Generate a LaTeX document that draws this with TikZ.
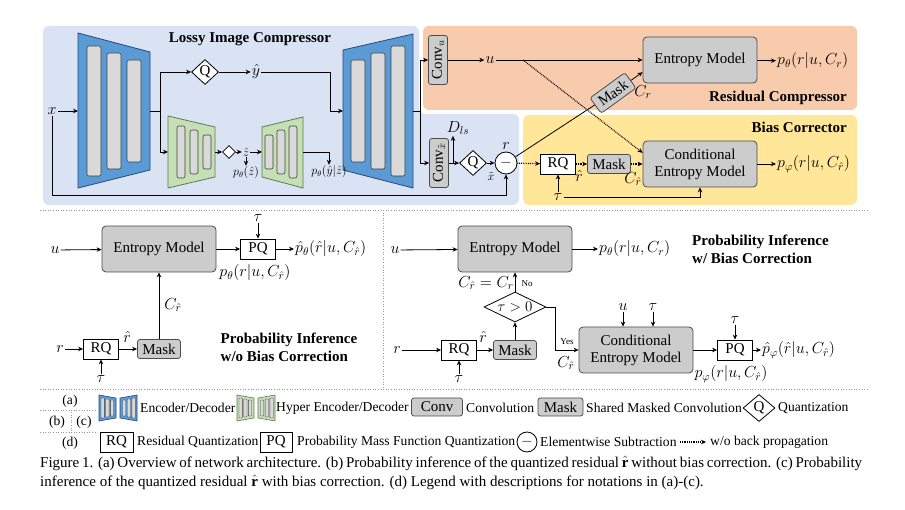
\RequirePackage{fix-cm}
\documentclass[tikz,border=0pt]{standalone}
\usepackage{amsmath}
\usepackage{fontspec}
\setmainfont{Liberation Serif}
\usetikzlibrary{arrows.meta,shapes.geometric,positioning,calc}

\definecolor{lossybg}{RGB}{218,227,243}
\definecolor{residbg}{RGB}{248,203,173}
\definecolor{biasbg}{RGB}{255,230,153}
\definecolor{encblue}{RGB}{91,155,213}
\definecolor{encedge}{RGB}{40,70,120}
\definecolor{hypgreen}{RGB}{197,224,180}
\definecolor{hypedge}{RGB}{95,120,85}

\begin{document}
\begin{tikzpicture}[x=1pt, y=-1pt,
    font=\fontsize{15}{17}\selectfont,
    arr/.style={-{Stealth[length=5pt,width=4.5pt]}, line width=0.8pt},
    darr/.style={arr, densely dotted, line width=1.2pt},
    line/.style={line width=0.8pt},
    box/.style={draw=black!70, rounded corners=4pt, fill=black!20, line width=0.8pt, minimum width=114pt, minimum height=46pt, align=center, inner sep=1pt},
    qbox/.style={draw, fill=white, line width=0.8pt, minimum width=35pt, minimum height=20pt, inner sep=0pt},
    maskbox/.style={draw=black!70, rounded corners=2.5pt, fill=black!20, line width=0.8pt, minimum width=43pt, minimum height=19pt, inner sep=0pt},
    convbox/.style={maskbox, rotate=90, minimum width=49pt},
    quant/.style={draw, diamond, fill=white, line width=0.8pt, minimum width=27pt, minimum height=25pt, inner sep=0pt},
    subnode/.style={draw, circle, fill=white, line width=0.8pt, minimum size=22pt, inner sep=0pt},
    lbl/.style={inner sep=1pt, font=\fontsize{16}{18}\selectfont},
    smlbl/.style={inner sep=1pt, font=\fontsize{12}{14}\selectfont},
    tinylbl/.style={inner sep=0pt, font=\fontsize{9}{10}\selectfont},
    title/.style={font=\fontsize{15}{18}\selectfont\bfseries, align=left, inner sep=0pt},
    lgd/.style={font=\fontsize{13.6}{15}\selectfont, inner sep=0pt, anchor=west},
    sepline/.style={black!40, dotted, line width=0.6pt},
    encoder/.style={fill=encblue, draw=encedge, line width=0.8pt},
    hyper/.style={fill=hypgreen, draw=hypedge, line width=0.8pt},
    bar/.style={fill=black!15, draw=black!75, rounded corners=2pt, line width=0.6pt}
]
\useasboundingbox (0,0) rectangle (905,510);

% (a) panels
\fill[lossybg, rounded corners=6pt] (43,26) -- (419,26) -- (419,114) -- (519,114) -- (519,205) -- (43,205) -- cycle;
\fill[residbg, rounded corners=6pt] (423,26) rectangle (857,110);
\fill[biasbg, rounded corners=6pt] (523,115) rectangle (857,205);
\node[title] (ttl-a) at (250,39) {Lossy Image Compressor};
\node[title, anchor=east] (ttl-r) at (847,98) {Residual Compressor};
\node[title, anchor=east] (ttl-b) at (847,127) {Bias Corrector};

% encoder / decoder
\draw[encoder] (78,33) -- (150,52) -- (150,170) -- (78,188) -- cycle;
\foreach \bx/\bh in {87/65, 107/58, 127/51}
  \draw[bar] (\bx,111-\bh) rectangle ++(14,2*\bh);
\draw[encoder] (343,50) -- (413,34) -- (413,188) -- (343,170) -- cycle;
\foreach \bx/\bh in {351/51, 371/58, 391/65}
  \draw[bar] (\bx,111-\bh) rectangle ++(14,2*\bh);
% hyper encoder / decoder
\draw[hyper] (168,116) -- (215,127) -- (215,177) -- (168,188) -- cycle;
\foreach \bx/\bh in {177/26, 190/22, 203/17}
  \draw[bar] (\bx,152-\bh) rectangle ++(8,2*\bh);
\draw[hyper] (262,127) -- (303,117) -- (303,188) -- (262,177) -- cycle;
\foreach \bx/\bh in {265/17, 277/22, 289/26}
  \draw[bar] (\bx,152-\bh) rectangle ++(8,2*\bh);

\coordinate (enc-in) at (78,111);
\coordinate (enc-out) at (150,111);
\coordinate (enc-j) at (160,111);
\coordinate (dec-j) at (330,111);
\coordinate (dec-in) at (343,111);
\coordinate (dec-out) at (413,111);
\coordinate (dec-j2) at (420,111);
\coordinate (henc-in) at (168,152);
\coordinate (henc-out) at (215,152);
\coordinate (hdec-in) at (262,152);
\coordinate (hdec-out) at (303,152);
\coordinate (x-low) at (52,195);
\coordinate (u-j) at (523,60);
\coordinate (dls-j) at (453,163);

\node[lbl] (x) at (52,111) {$x$};
\node[quant] (q1) at (205,72) {Q};
\node[lbl] (yhat) at (256,72) {$\hat{y}$};
\node[quant, minimum width=13pt, minimum height=13pt] (q2) at (229,152) {};
\node[smlbl] (zhat) at (246,152) {$\hat{z}$};
\node[smlbl] (pz) at (246,173) {$p_\theta(\hat{z})$};
\node[smlbl] (pyz) at (329,172) {$p_\theta(\hat{y}|\hat{z})$};
\node[convbox] (convu) at (438,60) {Conv$_u$};
\node[convbox] (convx) at (439,163) {Conv$_{\tilde{x}}$};
\node[lbl] (u1) at (490,60) {$u$};
\node[lbl] (dls) at (458,128) {$D_{ls}$};
\node[quant] (q3) at (473,163) {Q};
\node[smlbl] (xtil) at (491,177) {$\tilde{x}$};
\node[subnode] (sub) at (506,163) {$-$};
\node[lbl] (rlab) at (506,146) {$r$};
\node[qbox] (rq1) at (558,164) {RQ};
\node[lbl] (rhat1) at (579,176) {$\hat{r}$};
\node[maskbox] (mask1) at (609,164) {Mask};
\node[lbl] (cr1) at (633,179) {$C_{\hat{r}}$};
\node[lbl] (tau1) at (558,197) {$\tau$};
\node[box] (em1) at (700,60) {Entropy Model};
\node[box] (cem1) at (700,164) {Conditional\\Entropy Model};
\node[maskbox, rotate=36] (mask2) at (613,93) {Mask};
\node[lbl] (crr) at (643,92) {$C_r$};
\node[lbl, anchor=west] (pr1) at (776,61) {$p_\theta(r|u,C_r)$};
\node[lbl, anchor=west] (pphi1) at (776,164) {$p_\varphi(r|u,C_{\hat{r}})$};

\draw[arr] (x) -- (enc-in);
\draw[arr] (x) -- (x-low) -| (sub);
\draw[line] (enc-out) -- (enc-j);
\draw[arr] (enc-j) |- (q1);
\draw[arr] (enc-j) |- (henc-in);
\draw[arr] (q1) -- (yhat);
\draw[arr] (yhat) -| (dec-j) -- (dec-in);
\draw[arr] (henc-out) -- (q2);
\draw[arr] (q2) -- (zhat);
\draw[arr] (zhat) -- (hdec-in);
\draw[arr] (zhat) -- (pz);
\draw[arr] (hdec-out) -| (pyz);
\draw[line] (dec-out) -- (dec-j2);
\draw[arr] (dec-j2) |- (convu);
\draw[arr] (dec-j2) |- (convx);
\draw[arr] (convu) -- (u1);
\draw[arr] (u1) -- (em1);
\draw[darr] (u-j) -- (cem1.169);
\draw[arr] (convx) -- (q3);
\draw[arr] (dls-j) -- (dls-j |- dls.south);
\draw[arr] (q3) -- (sub);
\draw[line] (sub) -- (mask2);
\draw[arr] (mask2) -- (em1.192);
\draw[darr] (sub) -- (rq1);
\draw[darr] (rq1) -- (mask1);
\draw[darr] (mask1) -- (cem1);
\draw[arr] (tau1) -- (rq1);
\draw[arr] (tau1) -| (cem1);
\draw[arr] (em1) -- (pr1);
\draw[arr] (cem1) -- (pphi1);

% separators
\draw[sepline] (40,210) -- (868,210);
\draw[sepline] (383,210) -- (383,389);
\draw[sepline] (40,389) -- (868,389);

% (b) w/o bias correction
\node[lbl] (u2) at (55,250) {$u$};
\node[box] (em2) at (159,249) {Entropy Model};
\node[qbox] (pq2) at (258,249) {PQ};
\node[lbl] (tau2) at (258,218) {$\tau$};
\node[lbl, anchor=west] (phat2) at (294,249) {$\hat{p}_\theta(\hat{r}|u,C_{\hat{r}})$};
\node[lbl] (p2) at (255,273) {$p_\theta(r|u,C_{\hat{r}})$};
\node[maskbox] (mask3) at (159,349) {Mask};
\node[lbl] (cr3) at (173,305) {$C_{\hat{r}}$};
\node[qbox] (rq3) at (101,349) {RQ};
\node[lbl] (r3) at (60,349) {$r$};
\node[lbl] (tau3) at (101,379) {$\tau$};
\node[lbl] (rhat3) at (127,337) {$\hat{r}$};
\node[title] (ttl-wo) at (289,347) {Probability Inference\\w/o Bias Correction};

\draw[arr] (u2) -- (em2);
\draw[arr] (em2) -- (pq2);
\draw[arr] (tau2) -- (pq2);
\draw[arr] (pq2) -- (phat2);
\draw[arr] (r3) -- (rq3);
\draw[arr] (tau3) -- (rq3);
\draw[arr] (rq3) -- (mask3);
\draw[arr] (mask3) -- (em2);

% (c) w/ bias correction
\node[lbl] (u4) at (395,250) {$u$};
\node[box] (em4) at (515,249) {Entropy Model};
\node[lbl, anchor=west] (pth4) at (598,249) {$p_\theta(r|u,C_r)$};
\node[title, anchor=west] (ttl-w) at (692,249) {Probability Inference\\w/ Bias Correction};
\node[lbl] (crcr) at (486,283) {$C_{\hat{r}}=C_r$};
\node[tinylbl] (no) at (527,284) {No};
\node[quant, aspect=2, minimum width=62pt, minimum height=30pt] (tgt) at (515,307) {$\tau>0$};
\node[maskbox] (mask5) at (515,350) {Mask};
\node[qbox] (rq5) at (459,350) {RQ};
\node[lbl] (r5) at (397,350) {$r$};
\node[lbl] (tau5) at (459,379) {$\tau$};
\node[lbl] (rhat5) at (483,337) {$\hat{r}$};
\coordinate (yes-j) at (555,350);
\node[tinylbl] (yes) at (567,342) {Yes};
\node[lbl] (cr5) at (566,363) {$C_{\hat{r}}$};
\node[box] (cem5) at (636,350) {Conditional\\Entropy Model};
\node[lbl] (u6) at (623,307) {$u$};
\node[lbl] (tau6) at (653,307) {$\tau$};
\node[qbox] (pq5) at (735,350) {PQ};
\node[lbl] (tau7) at (735,320) {$\tau$};
\node[lbl, anchor=west] (phat5) at (761,350) {$\hat{p}_\varphi(\hat{r}|u,C_{\hat{r}})$};
\node[lbl] (pphi5) at (731,374) {$p_\varphi(r|u,C_{\hat{r}})$};

\draw[arr] (u4) -- (em4);
\draw[arr] (em4) -- (pth4);
\draw[arr] (tgt) -- (em4);
\draw[arr] (mask5) -- (tgt);
\draw[arr] (r5) -- (rq5);
\draw[arr] (tau5) -- (rq5);
\draw[arr] (rq5) -- (mask5);
\draw[arr] (tgt.east) -| (yes-j) -- (cem5);
\draw[arr] (u6) -- (u6 |- cem5.north);
\draw[arr] (tau6) -- (tau6 |- cem5.north);
\draw[arr] (cem5) -- (pq5);
\draw[arr] (tau7) -- (pq5);
\draw[arr] (pq5) -- (phat5);

% (d) legend
\node[lgd, anchor=center] (lg-a) at (70,401) {(a)};
\node[lgd, anchor=center] (lg-b) at (57,422) {(b)};
\node[lgd, anchor=center] (lg-c) at (84,422) {(c)};
\node[lgd, anchor=center] (lg-d) at (70,443) {(d)};
\draw[sepline] (40,410) -- (96,410);
\draw[sepline] (40,432) -- (96,432);
\draw[sepline] (71,412) -- (71,431);

\foreach \ix/\st in {99/encoder, 237/hyper} {
  \draw[\st, line width=0.6pt] (\ix,395) -- ++(17,3) -- ++(0,20) -- ++(-17,3) -- cycle;
  \draw[\st, line width=0.6pt] (\ix+21,398) -- ++(17,-3) -- ++(0,26) -- ++(-17,-3) -- cycle;
  \foreach \k/\bh in {0/10, 1/9, 2/8}
    \draw[bar, rounded corners=0.6pt, line width=0.4pt] (\ix+2+4.7*\k,408-\bh) rectangle ++(3.3,2*\bh);
  \foreach \k/\bh in {0/8, 1/9, 2/10}
    \draw[bar, rounded corners=0.6pt, line width=0.4pt] (\ix+23.5+4.7*\k,408-\bh) rectangle ++(3.3,2*\bh);
}
\node[lgd] (lg-enc) at (140,408) {Encoder/Decoder};
\node[lgd] (lg-hyp) at (276,408) {Hyper Encoder/Decoder};
\node[maskbox, minimum width=51pt, minimum height=18pt] (lg-convbox) at (437,407) {Conv};
\node[lgd] (lg-conv) at (466,408) {Convolution};
\node[maskbox, minimum width=45pt, minimum height=18pt] (lg-maskbox) at (560.5,407) {Mask};
\node[lgd] (lg-mask) at (586,408) {Shared Masked Convolution};
\node[quant, minimum width=32pt, minimum height=27pt] (lg-q) at (759,408) {Q};
\node[lgd] (lg-quant) at (778,408) {Quantization};

\node[qbox, minimum width=33pt] (lg-rqbox) at (116.5,442) {RQ};
\node[lgd] (lg-rq) at (137,442) {Residual Quantization};
\node[qbox, minimum width=32pt] (lg-pqbox) at (276,442) {PQ};
\node[lgd] (lg-pq) at (297,442) {Probability Mass Function Quantization};
\node[subnode, minimum size=20pt] (lg-sub) at (527,442) {$-$};
\node[lgd] (lg-subtxt) at (540,442) {Elementwise Subtraction};
\coordinate (lg-d1) at (680,442);
\coordinate (lg-d2) at (706,442);
\draw[darr] (lg-d1) -- (lg-d2);
\node[lgd] (lg-nobp) at (710,442) {w/o back propagation};

% caption
\node[anchor=north west, text width=822pt, align=justify, inner sep=0pt, font=\fontsize{15}{19}\selectfont] (cap) at (40,456)
  {Figure 1. (a) Overview of network architecture. (b) Probability inference of the quantized residual $\hat{\mathbf{r}}$ without bias correction. (c) Probability\linebreak inference of the quantized residual $\hat{\mathbf{r}}$ with bias correction. (d) Legend with descriptions for notations in (a)-(c).};
\end{tikzpicture}
\end{document}
